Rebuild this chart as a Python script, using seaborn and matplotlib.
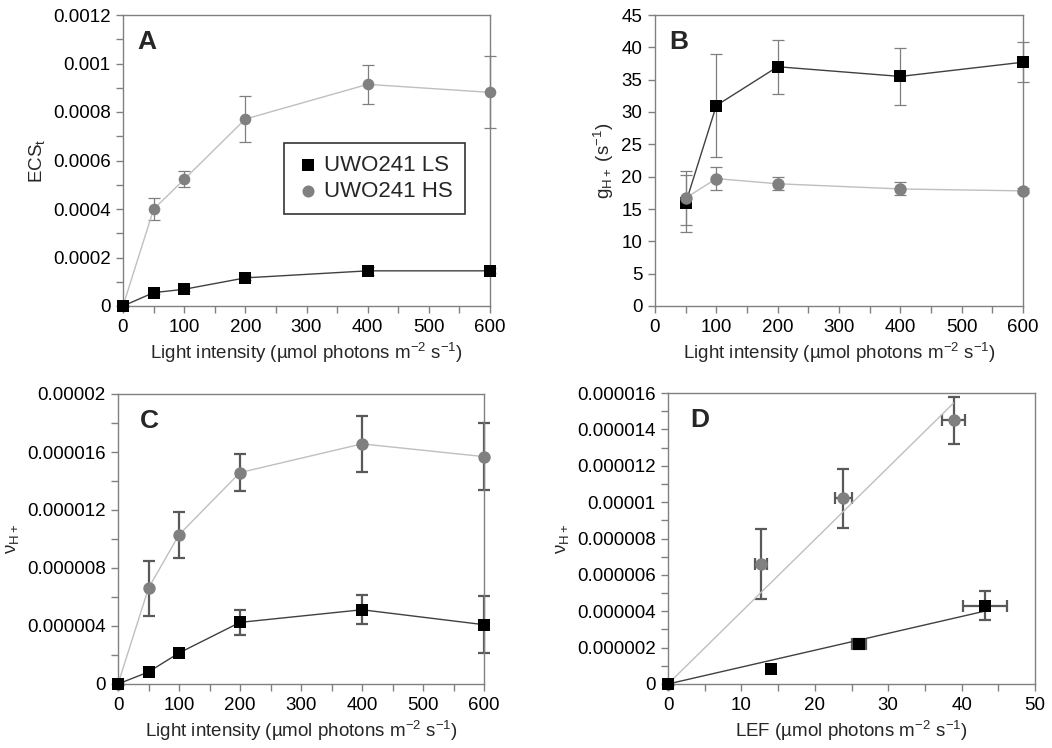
import numpy as np
import pandas as pd
import matplotlib
matplotlib.use("Agg")
import matplotlib.pyplot as plt
from matplotlib.ticker import MultipleLocator, FuncFormatter
import seaborn as sns

sns.set_theme(style="white")
plt.rcParams['font.family'] = ['Liberation Sans', 'DejaVu Sans']
plt.rcParams['mathtext.fontset'] = 'custom'
plt.rcParams['mathtext.rm'] = 'Liberation Sans'
plt.rcParams['mathtext.it'] = 'Liberation Sans:italic'
plt.rcParams['mathtext.bf'] = 'Liberation Sans:bold'

# ---------------- data ----------------
light = [0, 50, 100, 200, 400, 600]
light_b = [50, 100, 200, 400, 600]

ecs_ls = [0, 0.000055, 0.000069, 0.000116, 0.000145, 0.000145]
ecs_ls_err = [0, 0.000006, 0.000006, 0.000008, 0.000016, 0.000010]
ecs_hs = [0, 0.000399, 0.000522, 0.000771, 0.000914, 0.000881]
ecs_hs_err = [0, 0.000046, 0.000033, 0.000095, 0.000080, 0.000148]

gh_ls = [15.9, 31.0, 37.0, 35.5, 37.7]
gh_ls_err = [4.4, 7.9, 4.2, 4.4, 3.1]
gh_hs = [16.7, 19.7, 18.9, 18.1, 17.8]
gh_hs_err = [4.2, 1.8, 1.0, 1.0, 0.4]

vh_ls = [0, 0.00000083, 0.00000214, 0.00000425, 0.00000512, 0.00000409]
vh_ls_err = [0, 0.00000005, 0.00000020, 0.00000086, 0.00000100, 0.00000195]
vh_hs = [0, 0.00000661, 0.00001029, 0.00001458, 0.00001656, 0.00001568]
vh_hs_err = [0, 0.0000019, 0.00000157, 0.00000126, 0.00000193, 0.0000023]

lef_ls = [0, 14.0, 26.0, 43.2]
lef_ls_err = [0, 0.3, 1.0, 3.0]
vd_ls = [0, 0.0000008, 0.0000022, 0.0000043]
vd_ls_err = [0, 0.00000005, 0.0000003, 0.0000008]
lef_hs = [0, 12.7, 23.9, 38.9]
lef_hs_err = [0, 0.8, 1.1, 1.6]
vd_hs = [0, 0.0000066, 0.0000102, 0.0000145]
vd_hs_err = [0, 0.0000019, 0.0000016, 0.0000013]

LS_LINE = '#404040'
HS_LINE = '#bfbfbf'
LS_MK = 'black'
HS_MK = '#808080'
SPINE = '#808080'
FS = 13.5

fig = plt.figure(figsize=(10.52, 7.48), dpi=100)
axA = fig.add_axes([123/1052, (748-306)/748, 367/1052, 291/748])
axB = fig.add_axes([655/1052, (748-306)/748, 368/1052, 291/748])
axC = fig.add_axes([118/1052, (748-684)/748, 366/1052, 290/748])
axD = fig.add_axes([668/1052, (748-684)/748, 367/1052, 291/748])


def fmt(v, pos):
    if abs(v) < 1e-12:
        return '0'
    s = ('%.7f' % v).rstrip('0').rstrip('.')
    return s


def style(ax, xmax, xmaj, xmin, ymax, ymaj, ymin):
    ax.set_xlim(0, xmax)
    ax.set_ylim(0, ymax)
    ax.xaxis.set_major_locator(MultipleLocator(xmaj))
    ax.xaxis.set_minor_locator(MultipleLocator(xmin))
    ax.yaxis.set_major_locator(MultipleLocator(ymaj))
    if ymin:
        ax.yaxis.set_minor_locator(MultipleLocator(ymin))
    ax.yaxis.set_major_formatter(FuncFormatter(fmt))
    for s in ax.spines.values():
        s.set_color(SPINE)
        s.set_linewidth(1.0)
        s.set_visible(True)
    ax.tick_params(axis='both', which='both', direction='out', color=SPINE,
                   labelsize=FS, labelcolor='black', bottom=True, left=True,
                   top=False, right=False, width=1.0)
    ax.tick_params(which='major', length=5, pad=4)
    ax.tick_params(which='minor', length=5)
    ax.grid(False)
    ax.set_facecolor('white')


def series(ax, x, y, yerr, lc, mc, marker, ms, ecol, elw, line=True):
    df = pd.DataFrame({'x': x, 'y': y})
    ax.errorbar(x, y, yerr=yerr, fmt='none', ecolor=ecol, elinewidth=elw,
                capsize=4, capthick=elw, zorder=2, clip_on=False)
    if line:
        sns.lineplot(data=df, x='x', y='y', ax=ax, color=lc, lw=1.0,
                     sort=False, zorder=3, legend=False)
    sns.scatterplot(data=df, x='x', y='y', ax=ax, color=mc, marker=marker,
                    s=ms, edgecolor=mc, linewidth=0, zorder=4, clip_on=False,
                    legend=False)


xlab = 'Light intensity (µmol photons m$^{-2}$ s$^{-1}$)'

# Panel A
series(axA, light, ecs_hs, ecs_hs_err, HS_LINE, HS_MK, 'o', 70, '#7f7f7f', 0.9)
series(axA, light, ecs_ls, ecs_ls_err, LS_LINE, LS_MK, 's', 70, '#7f7f7f', 0.9)
style(axA, 600, 100, 50, 0.0012, 0.0002, 0.0001)
axA.set_xlabel(xlab, fontsize=FS)
axA.set_ylabel('ECS$_{\\mathrm{t}}$', fontsize=FS)
axA.text(0.04, 0.95, 'A', transform=axA.transAxes, fontsize=19,
         fontweight='bold', va='top', ha='left')
h1 = axA.scatter([], [], marker='s', s=75, color=LS_MK, linewidth=0)
h2 = axA.scatter([], [], marker='o', s=75, color=HS_MK, linewidth=0)
leg = axA.legend([h1, h2], ['UWO241 LS', 'UWO241 HS'], loc='upper left',
                 bbox_to_anchor=(0.44, 0.56), fontsize=16, frameon=True,
                 fancybox=False, edgecolor='black', handletextpad=0.25,
                 handlelength=1.0, borderpad=0.55, labelspacing=0.2,
                 borderaxespad=0.0)
leg.get_frame().set_linewidth(1.2)

# Panel B
series(axB, light_b, gh_ls, gh_ls_err, LS_LINE, LS_MK, 's', 80, '#7f7f7f', 0.9)
series(axB, light_b, gh_hs, gh_hs_err, HS_LINE, HS_MK, 'o', 80, '#7f7f7f', 0.9)
style(axB, 600, 100, 50, 45, 5, None)
axB.set_xlabel(xlab, fontsize=FS)
axB.set_ylabel('g$_{\\mathrm{H+}}$ (s$^{-1}$)', fontsize=FS)
axB.text(0.04, 0.95, 'B', transform=axB.transAxes, fontsize=19,
         fontweight='bold', va='top', ha='left')

# Panel C
series(axC, light, vh_hs, vh_hs_err, HS_LINE, HS_MK, 'o', 80, '#595959', 1.6)
series(axC, light, vh_ls, vh_ls_err, LS_LINE, LS_MK, 's', 80, '#595959', 1.6)
style(axC, 600, 100, 50, 0.00002, 0.000004, 0.000002)
axC.set_xlabel(xlab, fontsize=FS)
axC.set_ylabel('ν$_{\\mathrm{H+}}$', fontsize=FS)
axC.text(0.06, 0.95, 'C', transform=axC.transAxes, fontsize=19,
         fontweight='bold', va='top', ha='left')

# Panel D
for lx, ly, lxe, lye, lc, mc, mk in [
        (lef_hs, vd_hs, lef_hs_err, vd_hs_err, HS_LINE, HS_MK, 'o'),
        (lef_ls, vd_ls, lef_ls_err, vd_ls_err, LS_LINE, LS_MK, 's')]:
    xa = np.array(lx)
    ya = np.array(ly)
    slope = (xa * ya).sum() / (xa * xa).sum()
    fit = pd.DataFrame({'x': [0, xa.max()], 'y': [0, slope * xa.max()]})
    sns.lineplot(data=fit, x='x', y='y', ax=axD, color=lc, lw=1.0, zorder=3,
                 legend=False)
    axD.errorbar(lx, ly, xerr=lxe, yerr=lye, fmt='none', ecolor='#595959',
                 elinewidth=1.6, capsize=4, capthick=1.6, zorder=2)
    sns.scatterplot(x=lx, y=ly, ax=axD, color=mc, marker=mk, s=80,
                    linewidth=0, zorder=4, clip_on=False, legend=False)
style(axD, 50, 10, 5, 0.000016, 0.000002, 0.000001)
axD.set_xlabel('LEF (µmol photons m$^{-2}$ s$^{-1}$)', fontsize=FS)
axD.set_ylabel('ν$_{\\mathrm{H+}}$', fontsize=FS)
axD.text(0.06, 0.95, 'D', transform=axD.transAxes, fontsize=19,
         fontweight='bold', va='top', ha='left')

fig.savefig('out.png', dpi=100, facecolor='white')
